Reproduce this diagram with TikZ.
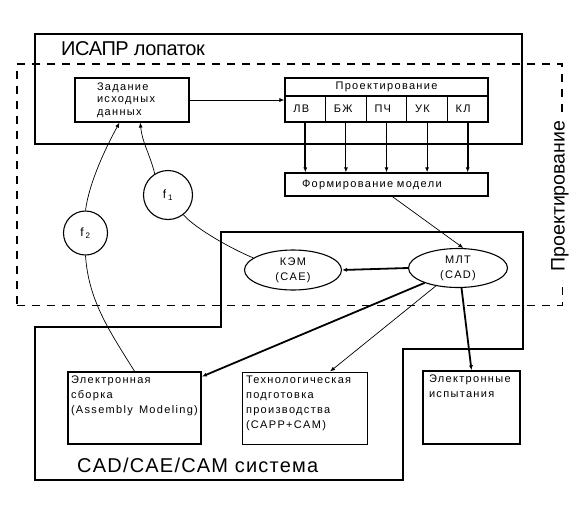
\documentclass[tikz,border=0pt]{standalone}
\usepackage{fontspec}
\setmainfont{Liberation Sans}[LetterSpace=12,WordSpace=1.4]
\newfontfamily\bigfont{Liberation Sans}[LetterSpace=6]
\newfontfamily\titlefont{Liberation Sans}[LetterSpace=-2]
\newfontfamily\zonefont{Liberation Sans}
\usetikzlibrary{shapes.geometric,arrows.meta}

\begin{document}
\begin{tikzpicture}
[x=1pt,y=-1pt,inner sep=0pt,
>={Latex[length=5pt,width=4pt]},
frame/.style={draw, line width=1.1pt},
zone/.style={draw, line width=1.5pt, dash pattern=on 8pt off 7pt},
block/.style={draw, line width=1.2pt, font=\fontsize{11pt}{12.5pt}\selectfont},
cell/.style={block, text width=24pt, inner xsep=8.3pt, align=left, minimum height=26pt},
panel/.style={draw, line width=1.2pt, inner sep=4pt, font=\fontsize{11pt}{15pt}\selectfont},
model/.style={draw, ellipse, line width=1.1pt, align=center, font=\fontsize{11pt}{15pt}\selectfont},
factor/.style={draw, circle, line width=1.1pt, font=\fontsize{12pt}{14pt}\selectfont},
big/.style={font=\bigfont\fontsize{20pt}{24pt}\selectfont},
feed/.style={draw, line width=0.7pt, ->},
link/.style={draw, line width=0.7pt},
push/.style={draw, line width=1.8pt, ->},
pass/.style={draw, line width=1.1pt, ->}]
\useasboundingbox (0,0) rectangle (588,514);

% FRAMES
\draw[frame] (35,34) rectangle (522,144);
\node[font=\titlefont\fontsize{20pt}{24pt}\selectfont, anchor=base west] (isapr) at (61,55) {ИСАПР лопаток};

\draw[frame] (35,327) -- (221,327) -- (221,232) -- (523,232) -- (523,349)
  -- (403,349) -- (403,480) -- (35,480) -- cycle;
\node[big, anchor=base west] (cad) at (77,472) {CAD/CAE/CAM система};

\draw[zone] (562,112) -- (562,64) -- (17,64) -- (17,305);
\draw[zone, line width=0.8pt] (17,305) -- (562,305) -- (562,280);
\node[font=\zonefont\fontsize{19.5pt}{24pt}\selectfont, rotate=90] (zonelabel) at (560,196) {Проектирование};

% BLOCKS
\node[block, text width=70pt, inner xsep=22pt, minimum height=44pt, align=left] (zad) at (132,100) {Задание\\исходных\\данных};

\node[block, minimum width=203pt, minimum height=18pt] (proj) at (386.5,87) {Проектирование};
\node[cell] (lv) at (305.3,109) {ЛВ};
\node[cell] (bzh) at (345.9,109) {БЖ};
\node[cell] (pch) at (386.5,109) {ПЧ};
\node[cell] (uk) at (427.1,109) {УК};
\node[cell] (kl) at (467.7,109) {КЛ};

\node[block, text width=169pt, inner xsep=17pt, minimum height=23pt, align=left] (form) at (386.5,184.5) {Формирование модели};

\node[model, minimum width=97pt, minimum height=40pt] (kem) at (293,270) {КЭМ\\(CAE)};
\node[model, minimum width=99pt, minimum height=39pt] (mlt) at (458,268) {МЛТ\\(CAD)};

\node[factor, minimum size=49pt] (f1) at (168,195) {f\,\textsubscript{1}};
\node[factor, minimum size=44pt] (f2) at (85.5,233) {f\,\textsubscript{2}};

\node[panel, line width=1.6pt, inner xsep=3pt] (asm) at (134.5,408) {\parbox[c][64pt][t]{127pt}{Электронная\\сборка\\(Assembly Modeling)}};
\node[panel, line width=1pt] (tech) at (304.5,408) {\parbox[c][64pt][t]{117pt}{Технологическая\\подготовка\\производства\\(CAPP+CAM)}};
\node[panel, line width=1.3pt, inner xsep=6pt] (test) at (471.5,407.5) {\parbox[c][65pt][t]{85pt}{Электронные\\испытания}};

% PROJECT
\draw[feed] (zad.east) -- (zad.east -| lv.west);
\draw[push] (lv.south) -- (lv.south |- form.north);
\draw[pass] (bzh.south) -- (bzh.south |- form.north);
\draw[push] (pch.south) -- (pch.south |- form.north);
\draw[pass] (uk.south) -- (uk.south |- form.north);
\draw[push] (kl.south) -- (kl.south |- form.north);
\draw[feed] (form.-64) -- (mlt.75);

% CAD
\draw[push] (mlt.west) -- (kem.east);
\draw[push] (mlt.204) -- (asm.25);
\draw[feed] (mlt.219) -- (tech.55);
\draw[push] (mlt.-80) -- (test.north);

% FEEDBACK
\draw[feed] (f1.122) .. controls +(-5,-20) and +(2,20) .. (zad.-70);
\draw[link] (f1.-52) .. controls +(12,14) and +(-20,-8) .. (kem.163);
\draw[feed] (f2.north) .. controls +(4,-30) and +(-12,22) .. (zad.-119);
\draw[link] (f2.south) .. controls +(3,45) and +(-25,-40) .. (asm.north);
\end{tikzpicture}
\end{document}
